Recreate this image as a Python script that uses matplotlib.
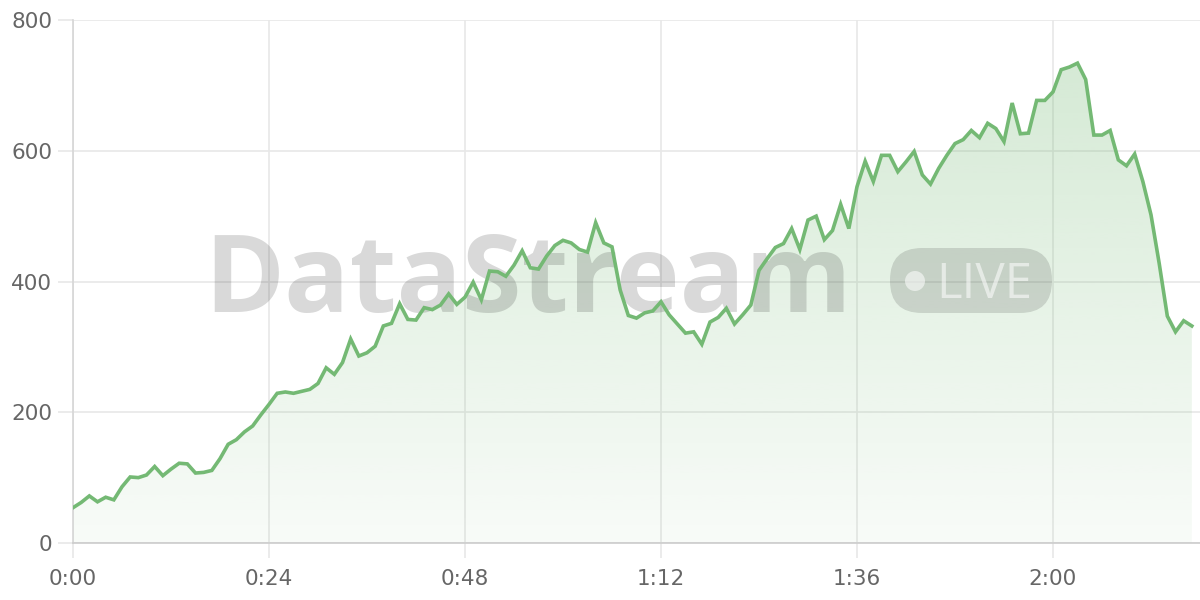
import matplotlib
matplotlib.use("Agg")
import matplotlib.pyplot as plt
import numpy as np
from matplotlib.patches import FancyBboxPatch, Circle, Polygon
from matplotlib.transforms import IdentityTransform
from matplotlib.ticker import FuncFormatter, MultipleLocator

# ---- data (minutes since start, value) ----
values = [54, 62, 72, 63, 70, 66, 86, 101, 100, 104,
          117, 103, 113, 122, 121, 107, 108, 111, 129, 151,
          158, 170, 179, 196, 212, 229, 231, 229, 232, 235,
          244, 268, 258, 276, 312, 286, 291, 301, 332, 336,
          366, 342, 341, 360, 357, 364, 381, 365, 376, 399,
          372, 416, 415, 408, 425, 447, 421, 419, 439, 455,
          463, 459, 449, 445, 490, 459, 453, 387, 348, 344,
          352, 355, 369, 349, 335, 321, 323, 304, 338, 345,
          359, 335, 349, 364, 417, 435, 452, 458, 481, 449,
          494, 500, 464, 478, 518, 481, 545, 584, 553, 593,
          593, 568, 583, 599, 563, 549, 573, 593, 611, 617,
          631, 620, 642, 634, 614, 673, 626, 627, 677, 677,
          690, 724, 728, 734, 709, 624, 624, 631, 586, 577,
          595, 553, 502, 428, 347, 323, 340, 332]
minutes = list(range(len(values)))
y_ticks = [0, 200, 400, 600, 800]
x_tick_step = 24
watermark = "DataStream"
badge = "LIVE"

LINE = "#74b974"
GRID = "#e8e8e8"
TXT = "#666666"

plt.rcParams['font.family'] = ['DejaVu Sans']

fig = plt.figure(figsize=(12, 6), dpi=100)
W, H = 1200, 600
ax = fig.add_axes([73 / W, 57 / H, (W - 73) / W, (543 - 20) / H])

x = np.array(minutes)
y = np.array(values)

ax.set_xlim(0, 138)
ax.set_ylim(0, 800)

# gradient fill
ymax = y.max()
grad = np.linspace(0.05, 0.30, 256).reshape(-1, 1)
rgba = np.zeros((256, 1, 4))
rgba[..., 0] = 0x74 / 255
rgba[..., 1] = 0xb9 / 255
rgba[..., 2] = 0x74 / 255
rgba[..., 3] = grad
im = ax.imshow(rgba, extent=[x[0], x[-1], 0, ymax], origin="lower",
               aspect="auto", zorder=1, interpolation="bilinear")
verts = np.vstack([[x[0], 0], np.column_stack([x, y]), [x[-1], 0]])
poly = Polygon(verts, closed=True, facecolor="none", edgecolor="none")
ax.add_patch(poly)
im.set_clip_path(poly)

ax.plot(x, y, color=LINE, lw=2.6, zorder=5, solid_joinstyle="miter")

# axes styling
ax.set_yticks(y_ticks)
ax.xaxis.set_major_locator(MultipleLocator(x_tick_step))
ax.xaxis.set_major_formatter(FuncFormatter(lambda v, p: f"{int(v)//60}:{int(v)%60:02d}"))
ax.grid(True, color=GRID, lw=1.2, zorder=0)
ax.set_axisbelow(True)
for s in ["top", "right"]:
    ax.spines[s].set_visible(False)
ax.spines["left"].set_color("#d6d6d6")
ax.spines["bottom"].set_color("#cccccc")
ax.spines["left"].set_linewidth(1.2)
ax.spines["bottom"].set_linewidth(1.2)
ax.tick_params(axis="both", colors=GRID, width=1.2, length=11, labelcolor=TXT,
               labelsize=15.5)
ax.tick_params(axis="x", pad=8)
ax.tick_params(axis="y", pad=4)

# watermark (inside the axes so the line draws on top)
ident = IdentityTransform()
ax.text(528, H - 312, watermark, ha="center", va="baseline",
        fontsize=78, fontweight="bold", family=["Open Sans", "DejaVu Sans"],
        color=(0, 0, 0, 0.15), zorder=3, transform=ident, clip_on=False)
pill = FancyBboxPatch((890, H - 313), 162, 65,
                      boxstyle="round,pad=0,rounding_size=32",
                      transform=ident, facecolor=(0, 0, 0, 0.13),
                      edgecolor="none", zorder=3, clip_on=False)
ax.add_artist(pill)
dot = Circle((915, H - 281), 10, transform=ident,
             facecolor=(1, 1, 1, 0.55), edgecolor="none", zorder=3.1,
             clip_on=False)
ax.add_artist(dot)
ax.text(936, H - 298, badge, ha="left", va="baseline", fontsize=35.5,
        family=["Open Sans", "DejaVu Sans"], color=(1, 1, 1, 0.55),
        zorder=3.1, transform=ident, clip_on=False)

fig.savefig("out.png", dpi=100)
